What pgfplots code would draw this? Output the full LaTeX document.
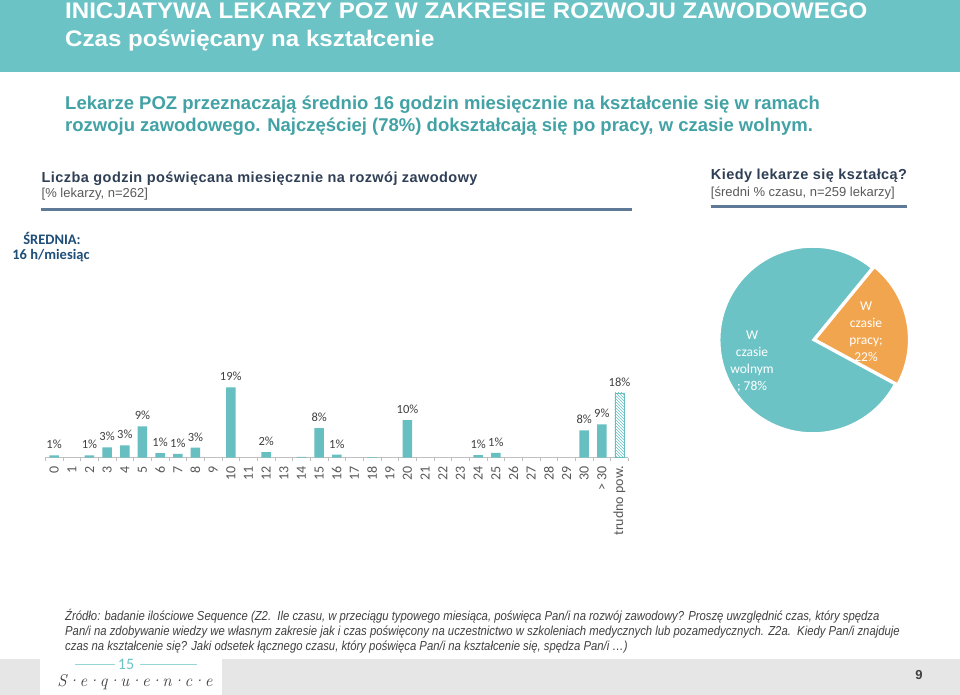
\documentclass[border=0pt]{standalone}
\usepackage{fontspec}
\setmainfont{Liberation Sans}
\newfontfamily\calibri{Carlito}
\newfontfamily\titlefont[FakeStretch=1.07]{Liberation Sans}
\newfontfamily\headfont[LetterSpace=3]{Liberation Sans}
\newfontfamily\notefont[FakeStretch=0.87]{Liberation Sans}
\usepackage{pgfplots}
\usepackage{pgfplotstable}
\pgfplotsset{compat=1.18}
\usetikzlibrary{patterns}
\definecolor{band}{HTML}{6CC3C6}
\definecolor{barteal}{HTML}{68BFC2}
\definecolor{subteal}{HTML}{42A2A5}
\definecolor{head}{HTML}{2F3F55}
\definecolor{rule}{HTML}{5E7A96}
\definecolor{navy}{HTML}{1F4E79}
\definecolor{labgray}{HTML}{404040}
\definecolor{tickgray}{HTML}{595959}
\definecolor{axgray}{HTML}{BFBFBF}
\definecolor{pieorange}{HTML}{F2A54F}
\definecolor{foot}{HTML}{E6E6E6}

% hours per month: bar height and printed label
\pgfplotstableread{
x y lab
0 0.6 1
2 0.6 1
3 2.8 3
4 3.3 3
5 8.5 9
6 1.2 1
7 1.0 1
8 2.7 3
10 19.1 19
12 1.5 2
15 8.0 8
16 0.8 1
20 10.2 10
24 0.7 1
25 1.3 1
30 7.4 8
31 9.0 9
}\hours
\pgfplotstableread{
x y
14 0.2
18 0.15
}\tiny
\pgfplotstableread{
x y lab
32 17.6 18
}\dontknow

\begin{document}
\begin{tikzpicture}[x=1pt,y=1pt]
\fill[white] (0,0) rectangle (960,695);
% header band
\fill[band] (0,623) rectangle (960,695);
\node[anchor=base west, inner sep=0, text=white, font=\titlefont\bfseries\fontsize{22.5}{26}\selectfont] at (65,676) {INICJATYWA LEKARZY POZ W ZAKRESIE ROZWOJU ZAWODOWEGO};
\node[anchor=base west, inner sep=0, text=white, font=\titlefont\bfseries\fontsize{22.5}{26}\selectfont] at (65,648.5) {Czas poświęcany na kształcenie};
% lead
\node[anchor=base west, inner sep=0, text=subteal, font=\bfseries\fontsize{18.5}{22}\selectfont] at (65,585.7) {Lekarze POZ przeznaczają średnio 16 godzin miesięcznie na kształcenie się w ramach};
\node[anchor=base west, inner sep=0, text=subteal, font=\bfseries\fontsize{18.5}{22}\selectfont] at (65,563) {rozwoju zawodowego. Najczęściej (78\%) dokształcają się po pracy, w czasie wolnym.};
% section heads
\node[anchor=base west, inner sep=0, text=head, font=\headfont\bfseries\fontsize{14.5}{17}\selectfont] at (41.5,512.3) {Liczba godzin poświęcana miesięcznie na rozwój zawodowy};
\node[anchor=base west, inner sep=0, text=tickgray, font=\fontsize{13}{15}\selectfont] at (41.5,497) {[\% lekarzy, n=262]};
\draw[rule, line width=3pt] (41,485) -- (632,485);
\node[anchor=base west, inner sep=0, text=head, font=\headfont\bfseries\fontsize{14.5}{17}\selectfont] at (710.7,515) {Kiedy lekarze się kształcą?};
\node[anchor=base west, inner sep=0, text=tickgray, font=\fontsize{13}{15}\selectfont] at (710.7,498.3) {[średni \% czasu, n=259 lekarzy]};
\draw[rule, line width=3pt] (710.7,488.3) -- (906.7,488.3);
% average
\node[anchor=base, inner sep=0, text=navy, font=\calibri\bfseries\fontsize{14.5}{16}\selectfont] at (52,450) {ŚREDNIA:};
\node[anchor=base, inner sep=0, text=navy, font=\calibri\bfseries\fontsize{14.5}{16}\selectfont] at (51,435) {16 h/miesiąc};

% bar chart
\coordinate (bax) at (45.3,237.4);
\begin{axis}[
  at={(bax)}, anchor=south west,
  scale only axis, width=583pt, height=73.6pt,
  xmin=-0.5, xmax=32.5, ymin=0, ymax=20,
  clip=false,
  axis y line=none, axis x line*=bottom,
  axis line style={draw=axgray, line width=0.8pt},
  xtick={0,...,32},
  xticklabels={0,1,2,3,4,5,6,7,8,9,10,11,12,13,14,15,16,17,18,19,20,21,22,23,24,25,26,27,28,29,30,> 30,trudno pow.},
  minor xtick={-0.5,0.5,...,32.5},
  major tick length=0pt, minor tick length=3.5pt, tick align=outside,
  tick style={draw=axgray, line width=0.8pt},
  xticklabel shift=5pt,
  xticklabel style={rotate=90, anchor=east, text=tickgray, font=\calibri\fontsize{14}{16}\selectfont},
  every node near coord/.append style={font=\calibri\fontsize{12.5}{14}\selectfont, text=labgray, yshift=3pt},
]
\addplot[ybar, bar shift=0pt, bar width=9.5pt, fill=barteal, draw=none,
  nodes near coords={\pgfplotspointmeta\%}, point meta=explicit symbolic]
  table[x=x, y=y, meta=lab] {\hours};
\addplot[ybar, bar shift=0pt, bar width=9.5pt, fill=barteal, draw=none]
  table[x=x, y=y] {\tiny};
\addplot[ybar, bar shift=0pt, bar width=9.5pt, draw=barteal, line width=0.4pt,
  pattern=north west lines, pattern color=barteal,
  nodes near coords={\pgfplotspointmeta\%}, point meta=explicit symbolic]
  table[x=x, y=y, meta=lab] {\dontknow};
\end{axis}

% pie chart
\coordinate (pc) at (812.7,355);
\begin{axis}[
  at={(pc)}, anchor=center,
  scale only axis, width=186pt, height=186pt,
  xmin=-1, xmax=1, ymin=-1, ymax=1,
  hide axis, clip=false,
]
\pgfmathsetmacro{\aS}{50.7}
\pgfmathsetmacro{\aM}{\aS+78*3.6}
\pgfmathsetmacro{\aE}{\aM+22*3.6}
\pgfmathsetmacro{\aMid}{(\aM+\aE)/2}
\fill[band, draw=white, line width=1.5pt] (axis cs:0,0) -- ++(\aS:93pt) arc[start angle=\aS, end angle=\aM, radius=93pt] -- cycle;
\fill[pieorange, draw=white, line width=1.5pt] ([shift={(\aMid:3pt)}]axis cs:0,0) -- ++(\aM:93pt) arc[start angle=\aM, end angle=\aE, radius=93pt] -- cycle;
\end{axis}
\node[align=center, text=white, font=\calibri\fontsize{13.5}{17}\selectfont] at (752,333) {W\\czasie\\wolnym\\; 78\%};
\node[align=center, text=white, font=\calibri\fontsize{13.5}{17}\selectfont] at (866,363) {W\\czasie\\pracy;\\22\%};

% source note
\node[anchor=base west, inner sep=0, text=labgray, font=\notefont\itshape\fontsize{13}{15}\selectfont] at (65,74) {Źródło: badanie ilościowe Sequence (Z2.\ \ Ile czasu, w przeciągu typowego miesiąca, poświęca Pan/i na rozwój zawodowy? Proszę uwzględnić czas, który spędza};
\node[anchor=base west, inner sep=0, text=labgray, font=\notefont\itshape\fontsize{13}{15}\selectfont] at (65,59) {Pan/i na zdobywanie wiedzy we własnym zakresie jak i czas poświęcony na uczestnictwo w szkoleniach medycznych lub pozamedycznych. Z2a.\ \ Kiedy Pan/i znajduje};
\node[anchor=base west, inner sep=0, text=labgray, font=\notefont\itshape\fontsize{13}{15}\selectfont] at (65,44) {czas na kształcenie się? Jaki odsetek łącznego czasu, który poświęca Pan/i na kształcenie się, spędza Pan/i \dots)};

% footer band and logo
\fill[foot] (0,0) rectangle (960,36);
\fill[white] (40,0) rectangle (222,36);
\draw[band!70, line width=0.6pt] (75,31) -- (115,31);
\draw[band!70, line width=0.6pt] (140,31) -- (197,31);
\node[text=band, font=\calibri\fontsize{16}{18}\selectfont, inner sep=0] at (126,31) {15};
\node[text=labgray, font=\fontfamily{lmr}\itshape\fontsize{17}{18}\selectfont, inner sep=0] at (135,13) {S·e·q·u·e·n·c·e};
\node[anchor=base, inner sep=0, text=labgray, font=\bfseries\fontsize{13}{15}\selectfont] at (919,15) {9};
\end{tikzpicture}
\end{document}
